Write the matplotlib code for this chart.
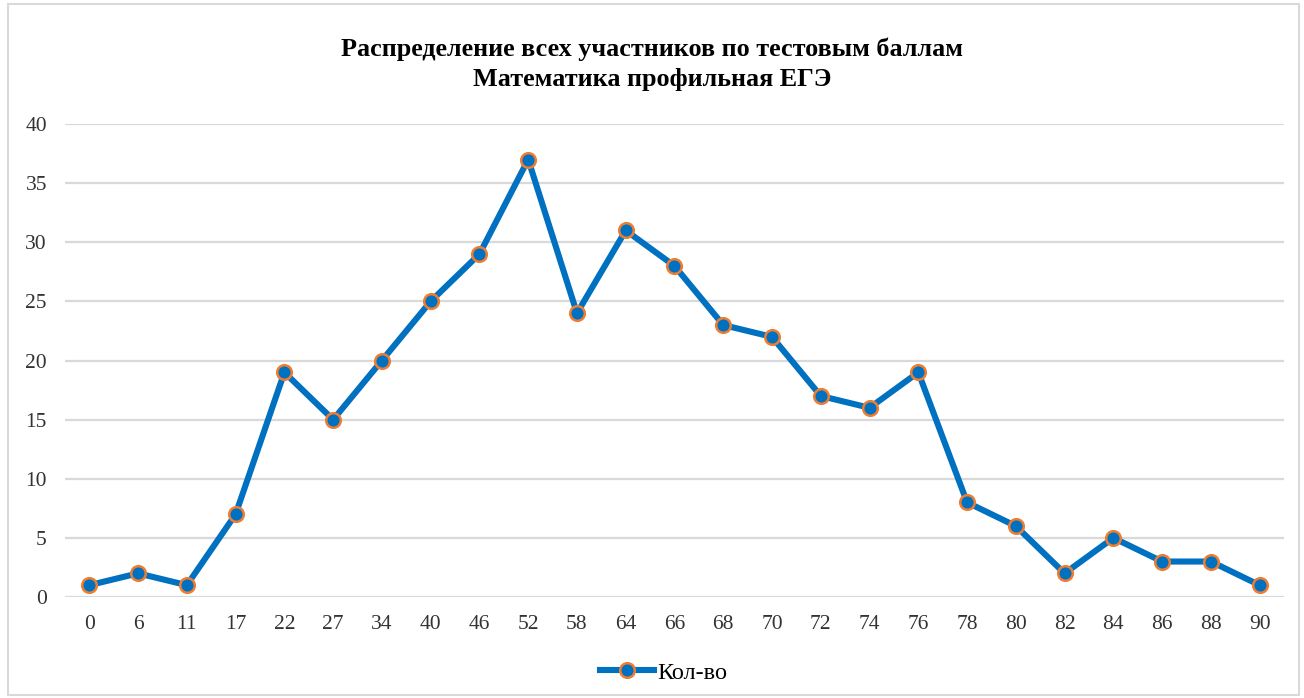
import matplotlib.pyplot as plt
from matplotlib.patches import Rectangle

# test scores (categories) and number of participants
scores = ['0', '6', '11', '17', '22', '27', '34', '40', '46', '52', '58', '64', '66',
          '68', '70', '72', '74', '76', '78', '80', '82', '84', '86', '88', '90']
counts = [1, 2, 1, 7, 19, 15, 20, 25, 29, 37, 24, 31, 28,
          23, 22, 17, 16, 19, 8, 6, 2, 5, 3, 3, 1]

plt.rcParams['font.family'] = ['Liberation Serif', 'DejaVu Serif']

fig = plt.figure(figsize=(13.04, 6.98), dpi=100)
ax = fig.add_axes([0.0498, 0.1447, 0.9349, 0.6776])

x = list(range(len(scores)))
ax.plot(x, counts, color='#0070C0', linewidth=4.4, marker='o', markersize=10.5,
        markerfacecolor='#0070C0', markeredgecolor='#ED7D31', markeredgewidth=1.8,
        label='Кол-во', zorder=3)

ax.set_xlim(-0.5, len(scores) - 0.5)
ax.set_ylim(0, 40)
ax.set_yticks(range(0, 41, 5))
ax.set_xticks(x)
ax.set_xticklabels(scores)
ax.tick_params(length=0, labelsize=15.5, colors='#333333', pad=13)
ax.tick_params(axis='y', pad=13)
ax.grid(axis='y', color='#D9D9D9', linewidth=1.6)
ax.set_axisbelow(True)
for s in ax.spines.values():
    s.set_visible(False)

fig.text(0.5, 0.908, 'Распределение всех участников по тестовым баллам\nМатематика профильная ЕГЭ',
         ha='center', va='center', fontsize=18.8, fontweight='bold', linespacing=1.42)

fig.legend(loc='center', bbox_to_anchor=(0.509, 0.036), frameon=False, fontsize=17.5,
           handlelength=2.2, handletextpad=0.15)

fig.patches.append(Rectangle((0.006, 0.004), 0.99, 0.99, transform=fig.transFigure,
                             fill=False, edgecolor='#D9D9D9', linewidth=1.5))

fig.savefig('out.png', dpi=100)
